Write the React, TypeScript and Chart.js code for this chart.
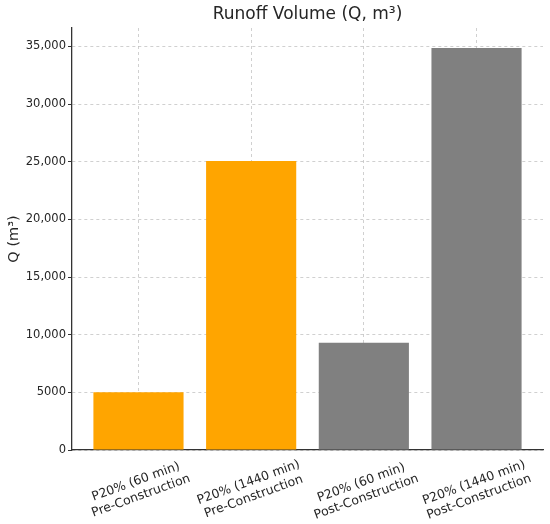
import React, { useEffect, useRef } from 'react';
import { Chart, registerables } from 'chart.js';

Chart.register(...registerables);

// ---- data ----
const categories: string[][] = [
  ['P20% (60 min)', 'Pre-Construction'],
  ['P20% (1440 min)', 'Pre-Construction'],
  ['P20% (60 min)', 'Post-Construction'],
  ['P20% (1440 min)', 'Post-Construction'],
];
const runoffValues: number[] = [5000, 25050, 9300, 34850];
const barColors: string[] = ['#FFA500', '#FFA500', '#808080', '#808080'];
const yTickValues: number[] = [0, 5000, 10000, 15000, 20000, 25000, 30000, 35000];
const chartTitle = 'Runoff Volume (Q, m³)';
const yAxisTitle = 'Q (m³)';

const FONT = '"DejaVu Sans", sans-serif';
const TEXT = '#262626';
const GRID = 'rgba(176,176,176,0.6)';

const BAR_FRACTION = 0.8;
const xMin = -BAR_FRACTION / 2 - 0.05 * (categories.length - 1 + BAR_FRACTION);
const xMax = categories.length - 1 + BAR_FRACTION / 2 + 0.05 * (categories.length - 1 + BAR_FRACTION);
const yMax = Math.max(...runoffValues) * 1.05;

const fmt = (v: number) => (v >= 10000 ? v.toLocaleString('en-US') : String(v));

const textPlugin = {
  id: 'textPlugin',
  afterDraw(chart: any) {
    const { ctx, chartArea, scales } = chart;
    ctx.save();
    ctx.fillStyle = TEXT;
    ctx.textAlign = 'center';
    ctx.textBaseline = 'middle';
    ctx.font = `17px ${FONT}`;
    ctx.fillText(chartTitle, (chartArea.left + chartArea.right) / 2, 15);

    ctx.font = `12.5px ${FONT}`;
    const theta = (20 * Math.PI) / 180;
    const lh = 15;
    categories.forEach((lines, i) => {
      const x = scales.x.getPixelForValue(i);
      const w = Math.max(...lines.map((l) => ctx.measureText(l).width));
      const h = lines.length * lh;
      const H = w * Math.sin(theta) + h * Math.cos(theta);
      const cy = chartArea.bottom + 7 + H / 2;
      ctx.save();
      ctx.translate(x, cy);
      ctx.rotate(-theta);
      lines.forEach((l, j) => ctx.fillText(l, 0, (j - (lines.length - 1) / 2) * lh));
      ctx.restore();
    });
    ctx.restore();
  },
};

export default function App() {
  const canvasRef = useRef<HTMLCanvasElement | null>(null);

  useEffect(() => {
    if (!canvasRef.current) return;
    const chart = new Chart(canvasRef.current, {
      type: 'bar',
      data: {
        datasets: [
          {
            data: runoffValues.map((v, i) => ({ x: i, y: v })),
            backgroundColor: barColors,
            borderWidth: 0,
            categoryPercentage: 1,
            barPercentage: BAR_FRACTION,
          },
        ],
      },
      options: {
        responsive: false,
        animation: false,
        layout: { padding: { top: 28, right: 7, left: 0, bottom: 0 } },
        plugins: {
          legend: { display: false },
          tooltip: { enabled: false },
          title: { display: false },
        },
        scales: {
          x: {
            type: 'linear',
            offset: false,
            min: xMin,
            max: xMax,
            z: 1,
            afterBuildTicks: (scale: any) => {
              scale.ticks = categories.map((_, i) => ({ value: i }));
            },
            afterFit: (scale: any) => {
              scale.height = 74;
            },
            ticks: { display: false },
            grid: { color: GRID, drawTicks: false, lineWidth: 1, offset: false },
            border: { display: true, color: '#333333', width: 1.3, dash: [3, 3] },
          },
          y: {
            type: 'linear',
            min: 0,
            max: yMax,
            z: 1,
            afterBuildTicks: (scale: any) => {
              scale.ticks = yTickValues.map((v) => ({ value: v }));
            },
            afterFit: (scale: any) => {
              scale.width = 72;
            },
            ticks: {
              color: TEXT,
              font: { family: FONT, size: 11.5 },
              padding: 2,
              callback: (v: any) => fmt(Number(v)),
            },
            grid: {
              color: GRID,
              lineWidth: 1,
              drawTicks: true,
              tickLength: 4,
              tickColor: '#333333',
              tickWidth: 1,
            },
            border: { display: true, color: '#333333', width: 1.3, dash: [3, 3] },
            title: {
              display: true,
              text: yAxisTitle,
              color: TEXT,
              font: { family: FONT, size: 14.5 },
              padding: { top: 5.3, bottom: 0 },
            },
          },
        },
      },
      plugins: [textPlugin],
    } as any);
    return () => chart.destroy();
  }, []);

  return (
    <div style={{ position: 'fixed', left: 0, top: 0, width: 550, height: 524, background: '#fff' }}>
      <canvas ref={canvasRef} width={550} height={524} style={{ display: 'block' }} />
    </div>
  );
}
